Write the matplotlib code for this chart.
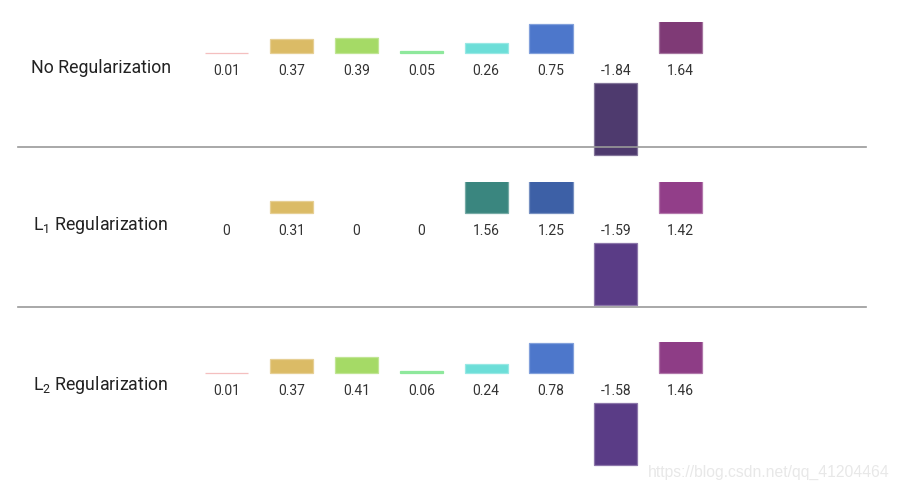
import numpy as np
import matplotlib
matplotlib.use("Agg")
import matplotlib.pyplot as plt
from matplotlib.colors import to_rgb

plt.rcParams['font.family'] = ['Roboto', 'DejaVu Sans']

### data

row_names = ["No Regularization",
             r"$\mathregular{L_1}$ Regularization",
             r"$\mathregular{L_2}$ Regularization"]

no_reg = [0.01, 0.37, 0.39, 0.05, 0.26, 0.75, -1.84, 1.64]
l1_reg = [0, 0.31, 0, 0, 1.56, 1.25, -1.59, 1.42]
l2_reg = [0.01, 0.37, 0.41, 0.06, 0.24, 0.78, -1.58, 1.46]

no_reg_colors = ["#f4bfbf", "#dbbb66", "#a5da66", "#8ee89c", "#6cded8", "#4d77cb", "#4e3a6e", "#7f3a76"]
l1_reg_colors = ["#f4bfbf", "#dbbb66", "#a5da66", "#8ee89c", "#3a867f", "#3d60a6", "#5a3c86", "#923e89"]
l2_reg_colors = ["#f4bfbf", "#dbbb66", "#a5da66", "#8ee89c", "#6cded8", "#4d77cb", "#5a3c86", "#8e3d86"]

rows = [no_reg, l1_reg, l2_reg]
row_colors = [no_reg_colors, l1_reg_colors, l2_reg_colors]


W, H = 900, 492
fig = plt.figure(figsize=(W/100, H/100), dpi=100)

px = 39.0            # pixels per unit
x0, dx = 226.5, 64.9 # first bar centre, bar spacing (px)
gap = 0.77           # negative bars start below the labels
baselines = [53.3, 213.3, 373.3]
label_x = [31, 33, 33]
label_base = [73.3, 230.5, 390.3]

def lighter(c, f=0.3):
    r, g, b = to_rgb(c)
    return (r + (1-r)*f, g + (1-g)*f, b + (1-b)*f)

for i, vals in enumerate(rows):
    yb = baselines[i]
    top = yb - 0.8*px
    bot = yb + 3.0*px
    ax = fig.add_axes([0, 1 - bot/H, 1, (bot - top)/H])
    ax.set_xlim(-x0/dx, (W - x0)/dx)
    ax.set_ylim(-3.0, 0.8)
    ax.axis('off')

    x = np.arange(len(vals))
    v = np.array(vals, dtype=float)
    bottoms = np.where(v < 0, -gap, 0)
    edges = [lighter(c) if abs(val) > 0.1 else c for c, val in zip(row_colors[i], vals)]
    lws = [0 if val == 0 else 0.9 for val in vals]
    ax.bar(x, v, bottom=bottoms, width=0.665, color=row_colors[i],
           edgecolor=edges, linewidth=lws)
    for k, val in enumerate(vals):
        s = "0" if val == 0 else "%.2f" % val
        ax.text(k, -0.56, s, ha='center', va='baseline', fontsize=10, color='#333333')

    fig.text(label_x[i]/W, 1 - label_base[i]/H, row_names[i], ha='left', va='baseline',
             fontsize=12.8, color='#222222')

# separators
for y in [146.7, 306.7]:
    fig.add_artist(plt.Line2D([18/W, 866/W], [1 - y/H, 1 - y/H], color='#999999', linewidth=1.2))

fig.text(648/W, 1 - 477/H, "https://blog.csdn.net/qq_41204464", ha='left', va='baseline',
         fontsize=11.3, family='Liberation Sans', color='#e8e8e8')

fig.savefig("out.png", dpi=100)
